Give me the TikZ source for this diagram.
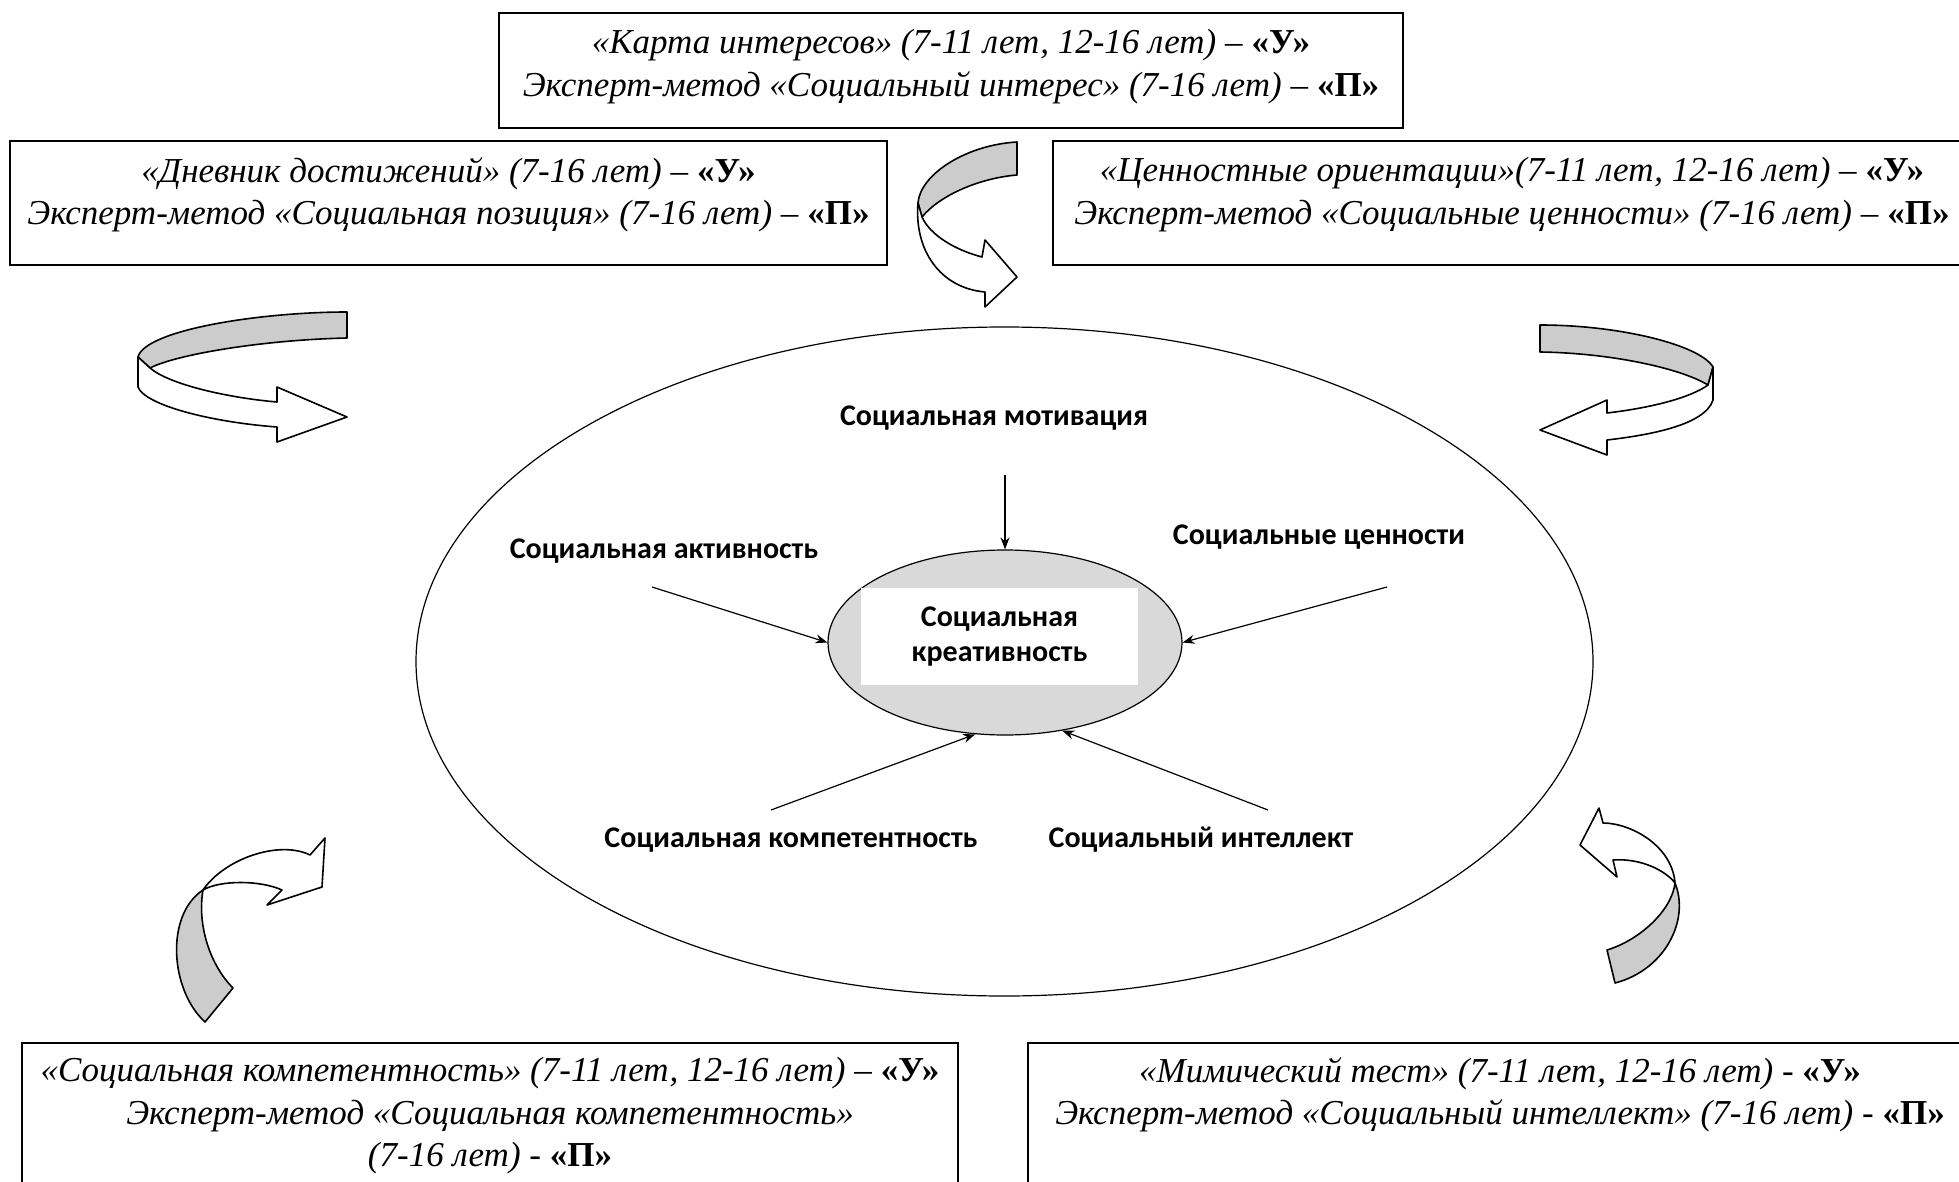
\documentclass[tikz,border=0pt]{standalone}
\usepackage{fontspec}
\setmainfont{Liberation Serif}
\newfontfamily\lblfont{Carlito}
\usetikzlibrary{positioning,shapes.geometric,arrows.meta}
\tikzstyle{box}=[rectangle, draw=black, line width=1pt, inner sep=0pt, anchor=center]
\tikzstyle{boxtxt}=[align=center, inner sep=0pt, font=\fontsize{17.5}{21.25}\selectfont\itshape]
\tikzstyle{lbl}=[inner sep=0pt, font=\lblfont\bfseries\fontsize{15}{17.5}\selectfont]
\tikzstyle{feed}=[semithick, -{Stealth[length=6pt,width=4.5pt]}]
\tikzstyle{bandback}=[draw=black, line width=0.8pt, fill=black!20, line join=round]
\tikzstyle{bandfront}=[draw=black, line width=0.8pt, fill=white, line join=round]
\newcommand{\markU}{\textbf{\textup{«У»}}}
\newcommand{\markP}{\textbf{\textup{«П»}}}

\begin{document}
\begin{tikzpicture}[x=0.5pt, y=-0.5pt]
	\useasboundingbox (0,0) rectangle (1959,1182);

	% method boxes
	\node[box, minimum width=452pt, minimum height=57.5pt] (top) at (951,70.5){};
	\node[box, minimum width=438.5pt, minimum height=62pt] (lefttop) at (448.5,203){};
	\node[box, minimum width=459pt, minimum height=62pt] (righttop) at (1512,203){};
	\node[box, minimum width=468pt, minimum height=78.5pt] (leftbot) at (490,1121.5){};
	\node[box, minimum width=472pt, minimum height=78.5pt] (rightbot) at (1500,1121.5){};

	\node[boxtxt, below=8.5pt of top.north] (toptxt) {«Карта интересов» (7-11 лет, 12-16 лет) – \markU\\Эксперт-метод «Социальный интерес» (7-16 лет) – \markP};
	\node[boxtxt, below=8.5pt of lefttop.north] (lefttoptxt) {«Дневник достижений» (7-16 лет) – \markU\\Эксперт-метод «Социальная позиция» (7-16 лет) – \markP};
	\node[boxtxt, below=8.5pt of righttop.north] (righttoptxt) {«Ценностные ориентации»(7-11 лет, 12-16 лет) – \markU\\Эксперт-метод «Социальные ценности» (7-16 лет) – \markP};
	\node[boxtxt, below=7.5pt of leftbot.north] (leftbottxt) {«Социальная компетентность» (7-11 лет, 12-16 лет) – \markU\\Эксперт-метод «Социальная компетентность»\\(7-16 лет) - \markP};
	\node[boxtxt, below=7.5pt of rightbot.north] (rightbottxt) {«Мимический тест» (7-11 лет, 12-16 лет) - \markU\\Эксперт-метод «Социальный интеллект» (7-16 лет) - \markP};

	% ellipses
	\node[ellipse, draw, semithick, minimum width=588.5pt, minimum height=334.5pt, inner sep=0pt] (outer) at (1004.5,661.5){};
	\node[ellipse, draw, semithick, fill=black!15, minimum width=177pt, minimum height=92.5pt, inner sep=0pt] (inner) at (1005,642.5){};
	\node[lbl, fill=white, align=center, minimum width=138.5pt, minimum height=48.5pt] (creat) at (999.5,636.5) {Социальная\\креативность};

	\node[lbl] (motiv) at (994,418) {Социальная мотивация};
	\node[lbl] (activ) at (664,551) {Социальная активность};
	\node[lbl] (values) at (1319,537) {Социальные ценности};
	\node[lbl] (compet) at (791,840) {Социальная компетентность};
	\node[lbl] (intel) at (1201,840) {Социальный интеллект};

	\coordinate (motivT) at (1005,475);
	\coordinate (activT) at (652,587);
	\coordinate (valuesT) at (1387,587);
	\coordinate (competT) at (771,810);
	\coordinate (intelT) at (1268,810);

	\draw[feed] (motivT) -- (inner.north);
	\draw[feed] (activT) -- (inner.west);
	\draw[feed] (valuesT) -- (inner.east);
	\draw[feed] (competT) -- (inner.-108);
	\draw[feed] (intelT) -- (inner.-57);

	% turning arrows
	\draw[bandback] (347,312) .. controls (260,312) and (145,330) .. (138,357) -- (150,368) .. controls (175,355) and (260,340) .. (347,338) -- cycle;
	\draw[bandfront] (138,357) -- (138,387) .. controls (145,405) and (210,422) .. (277,427) -- (277,442) -- (347,417) -- (277,387) -- (277,402) .. controls (230,398) and (170,385) .. (150,368) -- cycle;

	\draw[bandback] (1540,325) .. controls (1620,325) and (1700,345) .. (1713,367) -- (1708,385) .. controls (1680,368) and (1610,353) .. (1540,352) -- cycle;
	\draw[bandfront] (1713,367) -- (1713,400) .. controls (1705,425) and (1650,435) .. (1607,440) -- (1607,455) -- (1540,430) -- (1607,400) -- (1607,413) .. controls (1650,408) and (1690,398) .. (1708,385) -- cycle;

	\draw[bandback] (1017,142) .. controls (965,145) and (920,175) .. (918,203) -- (922,217) .. controls (940,195) and (980,178) .. (1017,175) -- cycle;
	\draw[bandfront] (918,203) .. controls (914,250) and (940,288) .. (985,292) -- (985,307) -- (1017,277) -- (985,240) -- (982,257) .. controls (955,250) and (930,235) .. (922,217) -- cycle;

	\draw[bandback] (205,1022) .. controls (170,990) and (165,915) .. (203,890) .. controls (197,925) and (210,965) .. (233,988) -- cycle;
	\draw[bandfront] (203,890) .. controls (225,858) and (280,840) .. (310,855) -- (325,838) -- (322,887) -- (267,905) -- (282,890) .. controls (260,880) and (220,880) .. (203,890) -- cycle;

	\draw[bandback] (1607,950) -- (1615,983) .. controls (1665,970) and (1690,920) .. (1675,883) .. controls (1672,910) and (1640,940) .. (1607,950) -- cycle;
	\draw[bandfront] (1675,883) .. controls (1672,845) and (1630,823) .. (1603,823) -- (1599,808) -- (1580,845) -- (1617,877) -- (1613,860) .. controls (1640,858) and (1665,870) .. (1675,883) -- cycle;
\end{tikzpicture}
\end{document}
